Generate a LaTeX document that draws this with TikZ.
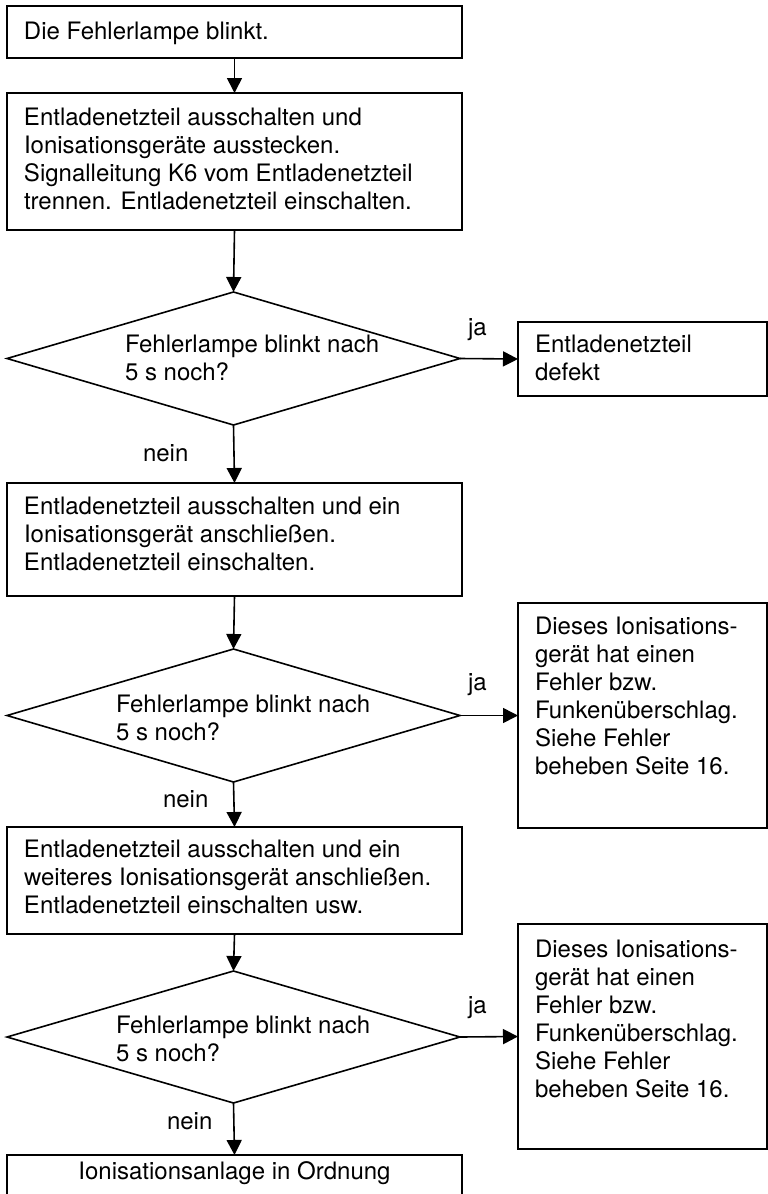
\documentclass[tikz,border=0pt]{standalone}
\usepackage{fontspec}
\setmainfont{TeX Gyre Heros}
\usetikzlibrary{shapes.geometric,arrows.meta}
% #1 height, #2 width, #3 space above first line, #4 lines
\newcommand\boxtxt[4]{\parbox[t][#1][t]{#2}{\vspace*{#3}\hspace*{17pt}\begin{tabular}[t]{@{}l@{}}#4\end{tabular}}}
\newcommand\boxctr[4]{\parbox[t][#1][t]{#2}{\vspace*{#3}\centering\begin{tabular}[t]{@{}l@{}}#4\end{tabular}\par}}
\newcommand\lines[1]{\begin{tabular}{@{}l@{}}#1\end{tabular}}
\tikzset{
  base/.style={font=\fontsize{24}{28}\selectfont, inner sep=0pt, outer sep=0pt},
  stepbox/.style={base, draw, line width=1.6pt, anchor=north west},
  dec/.style={draw, diamond, line width=1.6pt, inner sep=0pt, outer sep=0pt,
    minimum width=453pt, minimum height=133pt},
  qtext/.style={base, anchor=west},
  lbl/.style={base, anchor=base west},
  arr/.style={line width=1.6pt, -{Triangle[length=15pt,width=15pt]}},
}
\begin{document}
\begin{tikzpicture}[x=1pt,y=-1pt]
\useasboundingbox (0,0) rectangle (768,1194);
\clip (0,0) rectangle (768,1194);
% left column boxes
\node[stepbox] (b1) at (7,6) {\boxtxt{52pt}{455pt}{13.4pt}{Die Fehlerlampe blinkt.}};
\node[stepbox] (b2) at (7,93) {\boxtxt{137pt}{455pt}{12.4pt}{Entladenetzteil ausschalten und\\Ionisationsgeräte ausstecken.\\Signalleitung K6 vom Entladenetzteil\\trennen. Entladenetzteil einschalten.}};
\node[dec] (d1) at (233.5,358.5) {};
\node[qtext] (q1) at (125,360.4) {\lines{Fehlerlampe blinkt nach\\5 s noch?}};
\node[stepbox] (r1) at (518,322) {\boxtxt{74pt}{249pt}{10.4pt}{Entladenetzteil\\defekt}};
\node[stepbox] (b3) at (7,483) {\boxtxt{113pt}{455pt}{11.4pt}{Entladenetzteil ausschalten und ein\\Ionisationsgerät anschließen.\\Entladenetzteil einschalten.}};
\node[dec] (d2) at (233.5,715.5) {};
\node[qtext] (q2) at (116,720.4) {\lines{Fehlerlampe blinkt nach\\5 s noch?}};
\node[stepbox] (r2) at (518,603) {\boxtxt{225pt}{249pt}{11.4pt}{Dieses Ionisations-\\gerät hat einen\\Fehler bzw.\\Funkenüberschlag.\\Siehe Fehler\\beheben Seite 16.}};
\node[stepbox] (b4) at (7,827) {\boxtxt{107pt}{455pt}{10.4pt}{Entladenetzteil ausschalten und ein\\weiteres Ionisationsgerät anschließen.\\Entladenetzteil einschalten usw.}};
\node[dec, minimum height=132pt] (d3) at (233.5,1037) {};
\node[qtext] (q3) at (116,1041.4) {\lines{Fehlerlampe blinkt nach\\5 s noch?}};
\node[stepbox] (r3) at (518,924) {\boxtxt{225pt}{249pt}{13.4pt}{Dieses Ionisations-\\gerät hat einen\\Fehler bzw.\\Funkenüberschlag.\\Siehe Fehler\\beheben Seite 16.}};
\node[stepbox] (b5) at (7,1155) {\boxctr{70pt}{455pt}{5pt}{Ionisationsanlage in Ordnung}};
% connectors
\draw[arr] (b1.south) -- (b2.north);
\draw[arr] (b2.south) -- (d1.north);
\draw[arr] (d1.east) -- (r1.west);
\draw[arr] (d1.south) -- (b3.north);
\draw[arr] (b3.south) -- (d2.north);
\draw[arr] (d2.east) -- (r2.west);
\draw[arr] (d2.south) -- (b4.north);
\draw[arr] (b4.south) -- (d3.north);
\draw[arr] (d3.east) -- (r3.west);
\draw[arr] (d3.south) -- (b5.north);
% labels
\node[lbl] (ja1) at (468,335) {ja};
\node[lbl] (ja2) at (468,690) {ja};
\node[lbl] (ja3) at (468,1013) {ja};
\node[lbl] (ne1) at (143,461) {nein};
\node[lbl] (ne2) at (163,807) {nein};
\node[lbl] (ne3) at (167,1129) {nein};
\end{tikzpicture}
\end{document}
